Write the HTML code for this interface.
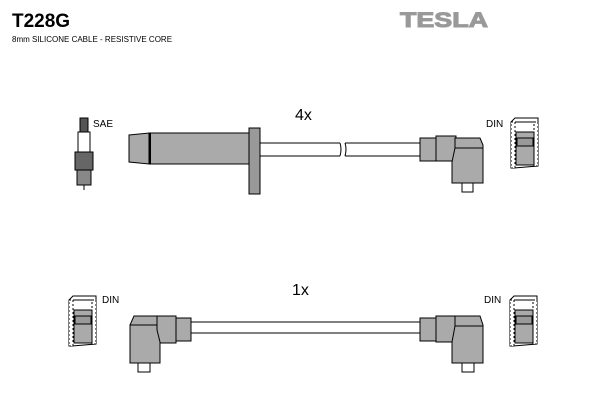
<!DOCTYPE html>
<html><head><style>body{margin:0;background:#fff}svg{display:block}</style></head><body>
<svg width="600" height="400" xmlns="http://www.w3.org/2000/svg" font-family="Liberation Sans, sans-serif">
<defs>
<g id="din">
<path d="M0,4 L4,0 L27,0 L27,48 L3,50 L0,50 Z" fill="#fff" stroke="#000"/>
<rect x="0" y="4" width="4" height="46" fill="#fff" stroke="#000" stroke-dasharray="2,2"/>
<rect x="23" y="4" width="4" height="44" fill="#fff" stroke="#000" stroke-dasharray="2,2"/>
<rect x="5" y="14" width="18" height="33" fill="#aaa" stroke="#000"/>
<rect x="6" y="20" width="16" height="8" fill="#999" stroke="#000"/>
<line x1="4" y1="4" x2="23" y2="4" stroke="#000"/>
</g>
</defs>
<text x="12" y="27" font-size="19" font-weight="bold">T228G</text>
<text x="12" y="42" font-size="8">8mm SILICONE CABLE - RESISTIVE CORE</text>
<text x="400" y="27" font-size="21" font-weight="bold" fill="#999" stroke="#999" stroke-width="1" textLength="88" lengthAdjust="spacingAndGlyphs">TESLA</text>
<!-- spark plug -->
<g stroke="#000" fill="#fff">
<rect x="80" y="118" width="8" height="14" fill="#555"/>
<rect x="78" y="132" width="12" height="20"/>
<rect x="75" y="152" width="18" height="18" fill="#666"/>
<rect x="77" y="170" width="14" height="15" fill="#888"/>
<line x1="84" y1="185" x2="84" y2="190"/>
</g>
<text x="93" y="127" font-size="10">SAE</text>
<!-- top boot -->
<path d="M129,135 L149,133 L149,164 L129,162 Z" fill="#aaa" stroke="#000"/>
<rect x="149" y="133" width="100" height="31" fill="#aaa" stroke="#000"/>
<line x1="150" y1="133" x2="150" y2="164" stroke="#000" stroke-width="2"/>
<rect x="249" y="128" width="11" height="66" fill="#999" stroke="#000"/>
<line x1="260" y1="143" x2="420" y2="143" stroke="#000"/>
<line x1="260" y1="156" x2="420" y2="156" stroke="#000"/>
<rect x="340" y="142" width="5" height="15" fill="#fff"/>
<path d="M340,143 q2,6 0,13 M345,143 q2,6 0,13" stroke="#000" fill="none"/>
<text x="295" y="120" font-size="16">4x</text>
<!-- top right boot -->
<g stroke="#000" fill="#aaa">
<rect x="420" y="138" width="16" height="23"/>
<rect x="436" y="136" width="20" height="25"/>
<path d="M455,138 L480,138 L483,145 L483,183 L452,183 L452,162 L455,148 Z"/>
<line x1="455" y1="148" x2="483" y2="148"/>
<rect x="462" y="183" width="11" height="9" fill="#fff"/>
</g>
<text x="486" y="127" font-size="10">DIN</text>
<use href="#din" x="511" y="118"/>
<!-- bottom -->
<text x="292" y="295" font-size="16">1x</text>
<line x1="190" y1="322" x2="420" y2="322" stroke="#000"/>
<line x1="190" y1="333" x2="420" y2="333" stroke="#000"/>
<g stroke="#000" fill="#aaa">
<rect x="176" y="318" width="15" height="23"/>
<rect x="156" y="316" width="20" height="27"/>
<path d="M157,316 L134,316 L130,325 L130,363 L160,363 L160,342 L157,330 Z"/>
<line x1="130" y1="325" x2="157" y2="325"/>
<rect x="138" y="363" width="12" height="9" fill="#fff"/>
<rect x="420" y="318" width="16" height="23"/>
<rect x="436" y="316" width="20" height="26"/>
<path d="M455,316 L480,316 L483,325 L483,363 L452,363 L452,342 L455,326 Z"/>
<line x1="455" y1="326" x2="483" y2="326"/>
<rect x="462" y="363" width="12" height="9" fill="#fff"/>
</g>
<text x="102" y="303" font-size="10">DIN</text>
<use href="#din" x="69" y="296"/>
<text x="484" y="303" font-size="10">DIN</text>
<use href="#din" x="510" y="296"/>
</svg>
</body></html>
